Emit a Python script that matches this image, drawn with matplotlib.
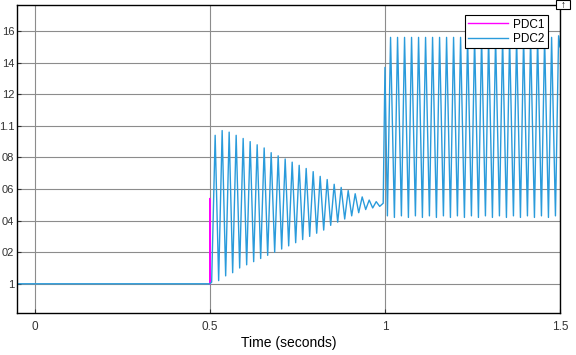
import numpy as np
import matplotlib
matplotlib.use('Agg')
import matplotlib.pyplot as plt
from matplotlib.patches import Rectangle

plt.rcParams['font.family'] = ['Liberation Sans', 'DejaVu Sans']

# flat part before the disturbance
t_flat = [-0.05, 0.5]
v_flat = [1.0, 1.0]

# 0.5 s .. 1.0 s : decaying oscillation (one low + one peak per 20 ms cycle)
t_lo1 = [0.505, 0.525, 0.545, 0.565, 0.585, 0.605, 0.625, 0.645, 0.665, 0.685,
         0.705, 0.725, 0.745, 0.765, 0.785, 0.805, 0.825, 0.845, 0.865, 0.885,
         0.905, 0.925, 0.945, 0.965, 0.985]
lo1 = [1.001, 1.002, 1.005, 1.007, 1.010, 1.012, 1.014, 1.016, 1.018, 1.020,
       1.022, 1.024, 1.026, 1.028, 1.030, 1.032, 1.034, 1.037, 1.039, 1.041,
       1.043, 1.045, 1.047, 1.048, 1.049]
t_hi1 = [0.515, 0.535, 0.555, 0.575, 0.595, 0.615, 0.635, 0.655, 0.675, 0.695,
         0.715, 0.735, 0.755, 0.775, 0.795, 0.815, 0.835, 0.855, 0.875, 0.895,
         0.915, 0.935, 0.955, 0.975, 0.995]
hi1 = [1.094, 1.097, 1.096, 1.094, 1.092, 1.090, 1.088, 1.086, 1.083, 1.081,
       1.079, 1.077, 1.075, 1.073, 1.071, 1.068, 1.066, 1.063, 1.061, 1.059,
       1.057, 1.055, 1.053, 1.052, 1.051]

# 1.0 s .. 1.5 s : sustained oscillation
t_lo2 = [1.007, 1.027, 1.047, 1.067, 1.087, 1.107, 1.127, 1.147, 1.167, 1.187,
         1.207, 1.227, 1.247, 1.267, 1.287, 1.307, 1.327, 1.347, 1.367, 1.387,
         1.407, 1.427, 1.447, 1.467, 1.487]
lo2 = [1.043, 1.042, 1.043, 1.042, 1.043, 1.042, 1.043, 1.042, 1.043, 1.042,
       1.043, 1.042, 1.043, 1.042, 1.043, 1.042, 1.043, 1.042, 1.043, 1.042,
       1.043, 1.042, 1.043, 1.042, 1.043]
t_hi2 = [1.016, 1.036, 1.056, 1.076, 1.096, 1.116, 1.136, 1.156, 1.176, 1.196,
         1.216, 1.236, 1.256, 1.276, 1.296, 1.316, 1.336, 1.356, 1.376, 1.396,
         1.416, 1.436, 1.456, 1.476, 1.496]
hi2 = [1.156, 1.156, 1.156, 1.156, 1.156, 1.156, 1.156, 1.156, 1.156, 1.156,
       1.156, 1.156, 1.156, 1.156, 1.156, 1.156, 1.156, 1.156, 1.156, 1.156,
       1.156, 1.156, 1.156, 1.156, 1.157]

# PDC1 is hidden under PDC2 except for its step at 0.5 s
t_pdc1 = [0.4995, 0.4995, 0.5005]
v_pdc1 = [1.0, 1.054, 1.0]

xticks = [0, 0.5, 1, 1.5]
xtick_labels = ['0', '0.5', '1', '1.5']
yticks = [1.0, 1.02, 1.04, 1.06, 1.08, 1.1, 1.12, 1.14, 1.16]
# labels as they show at the cropped left edge
ytick_labels = ['1', '02', '04', '06', '08', '1.1', '12', '14', '16']


def interleave(t_a, v_a, t_b, v_b):
    t = np.empty(len(t_a) + len(t_b))
    v = np.empty_like(t)
    t[0::2], t[1::2] = t_a, t_b
    v[0::2], v[1::2] = v_a, v_b
    return t, v


seg1_t, seg1_v = interleave(t_lo1, lo1, t_hi1, hi1)
seg2_t, seg2_v = interleave(t_lo2, lo2, t_hi2, hi2)

t_all = np.concatenate([t_flat, seg1_t, [1.0], seg2_t, [1.5]])
v_all = np.concatenate([v_flat, seg1_v, [1.137], seg2_v, [1.15]])

fig = plt.figure(figsize=(5.76, 3.55), dpi=100)
ax = fig.add_axes([17 / 576, 1 - 313 / 355, 543 / 576, 308 / 355])

blue = '#2A9BDB'
ax.plot(t_pdc1, v_pdc1, color='#FF00FF', lw=1.0, label='PDC1')
ax.plot(t_all, v_all, color=blue, lw=1.0, label='PDC2')

ax.set_xlim(-0.051, 1.5)
ax.set_ylim(0.9815, 1.1765)
ax.set_xticks(xticks)
ax.set_xticklabels(xtick_labels)
ax.set_yticks(yticks)
ax.set_yticklabels(ytick_labels)
ax.tick_params(direction='in', labelsize=8.5, length=3, colors='#333333')
ax.tick_params(axis='x', pad=6)
ax.tick_params(axis='y', pad=2, labelsize=8)
ax.grid(True, color='#8c8c8c', lw=0.8)
ax.set_axisbelow(True)
for s in ax.spines.values():
    s.set_color('black')
    s.set_linewidth(1.0)

ax.set_xlabel('Time (seconds)', fontsize=10, labelpad=2)

leg = ax.legend(loc='upper right', bbox_to_anchor=(0.978, 0.9675), fontsize=8.5,
                borderaxespad=0, fancybox=False, framealpha=1, edgecolor='black',
                handlelength=3.4, handletextpad=0.4, borderpad=0.3,
                labelspacing=0.2)
leg.get_frame().set_linewidth(0.8)

# small scope button in the top-right corner
fig.patches.append(Rectangle((556 / 576, 1 - 9 / 355), 14 / 576, 9 / 355,
                             transform=fig.transFigure, fc='white',
                             ec='black', lw=0.8))
fig.text(563 / 576, 1 - 4.5 / 355, '\u2191', fontsize=7, fontweight='bold',
         ha='center', va='center')

fig.savefig('out.png', dpi=100)
